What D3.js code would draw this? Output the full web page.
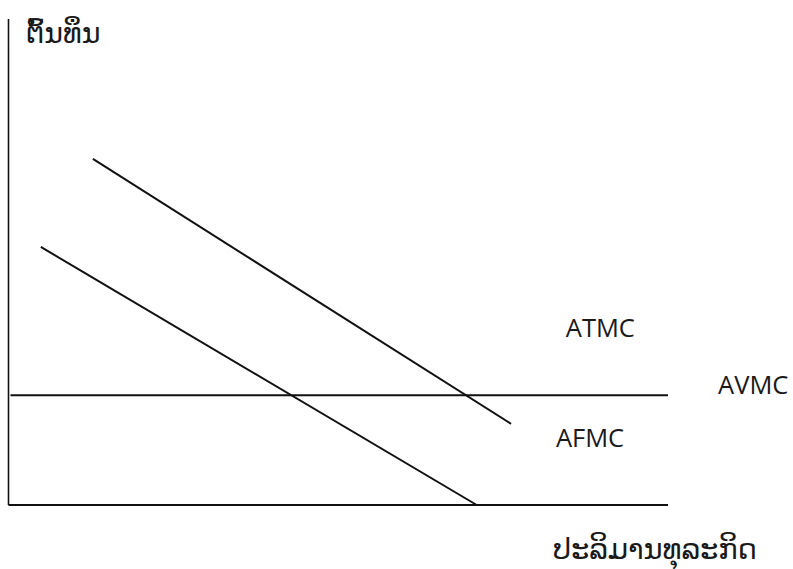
<!DOCTYPE html>
<html lang="lo">
<head>
    <meta charset="UTF-8">
    <title>ຕົ້ນທຶນ</title>
    <script src="https://cdn.jsdelivr.net/npm/d3@7"></script>
    <style>
        body { margin: 0; background: #fff; }
        text { font-family: "Open Sans", "DejaVu Sans", "Noto Sans", sans-serif; fill: #1a1a1a; }
        .lao { font-weight: 400; }
    </style>
</head>
<body>
    <div id="chart"></div>
    <script>
        // curves in chart units (quantity 0-100, cost 0-100)
        const curveNames = ["ATMC", "AFMC", "AVMC"];
        const atmc = [[12.8, 71.2], [76.2, 16.7]];
        const afmc = [[4.9, 53.1], [71.0, 0]];
        const avmc = [[0.3, 22.6], [100, 22.6]];

        const yTitle = "ຕົ້ນທຶນ";
        const xTitle = "ປະລິມານທຸລະກິດ";
        // label anchors, chart units
        const labelNames = ["ATMC", "AVMC", "AFMC"];
        const labelX = [84.5, 107.6, 83.0];
        const labelY = [34.6, 22.8, 11.9];

        const W = 793, H = 569;
        const svg = d3.select("#chart").append("svg")
            .attr("width", W).attr("height", H);

        const x = d3.scaleLinear().domain([0, 100]).range([8.5, 668]);
        const y = d3.scaleLinear().domain([0, 100]).range([505, 19]);

        // axes (plain lines, no ticks)
        svg.append("line")
            .attr("x1", x(0)).attr("x2", x(0))
            .attr("y1", y(100)).attr("y2", y(0))
            .attr("stroke", "#111").attr("stroke-width", 1.6);
        svg.append("line")
            .attr("x1", x(0)).attr("x2", x(100))
            .attr("y1", y(0)).attr("y2", y(0))
            .attr("stroke", "#111").attr("stroke-width", 2);

        const line = d3.line().x(d => x(d[0])).y(d => y(d[1]));
        svg.selectAll(".curve")
            .data([atmc, afmc, avmc])
            .join("path")
            .attr("class", "curve")
            .attr("fill", "none")
            .attr("stroke", "#111")
            .attr("stroke-width", 2)
            .attr("d", line);

        svg.selectAll(".lbl")
            .data(labelNames)
            .join("text")
            .attr("class", "lbl")
            .attr("x", (d, i) => x(labelX[i]))
            .attr("y", (d, i) => y(labelY[i]))
            .attr("font-size", 25.5)
            .text(d => d);

        svg.append("text")
            .attr("class", "lao")
            .attr("x", 26).attr("y", 43)
            .attr("font-size", 28.5)
            .text(yTitle);

        svg.append("text")
            .attr("class", "lao")
            .attr("x", 553).attr("y", 559)
            .attr("font-size", 29)
            .attr("textLength", 204)
            .text(xTitle);
    </script>
</body>
</html>
